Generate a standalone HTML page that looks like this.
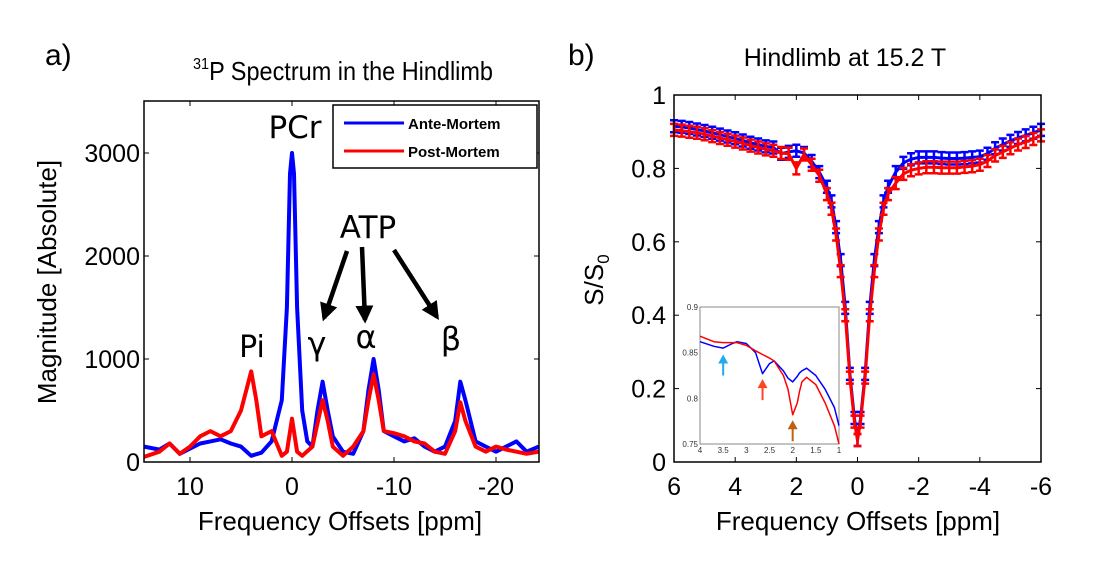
<!DOCTYPE html>
<html><head><meta charset="utf-8"><style>
body{margin:0;background:#fff;width:1114px;height:565px;overflow:hidden}
svg{font-family:"Liberation Sans",sans-serif}
</style></head><body>
<svg id="fig" width="1114" height="565">
<defs>
<marker id="ah" viewBox="0 0 10 10" refX="8" refY="5" markerWidth="4" markerHeight="4" orient="auto"><path d="M0,0L10,5L0,10z" fill="#000"/></marker>
</defs>
<text x="45" y="65" font-size="30">a)</text>
<text x="568" y="65" font-size="30">b)</text>
<text x="343" y="80" font-size="26" text-anchor="middle" textLength="300" lengthAdjust="spacingAndGlyphs"><tspan font-size="16" dy="-11">31</tspan><tspan dy="11">P Spectrum in the Hindlimb</tspan></text>
<text x="845" y="66" font-size="25" text-anchor="middle">Hindlimb at 15.2 T</text>
<g id="A"></g>
<g id="B"></g>
</svg>
<script>
const NS="http://www.w3.org/2000/svg";
function mk(p,t,a){const e=document.createElementNS(NS,t);for(const k in a)e.setAttribute(k,a[k]);p.appendChild(e);return e;}
// ---- chart A data ----
const aBlueX=[14.5,13,12,11,10,9,8,7,6,5,4,3,2,1,0.5,0.2,0,-0.2,-0.5,-1,-1.5,-2,-2.5,-3,-3.5,-4,-5,-6,-7,-7.5,-8,-8.5,-9,-10,-11,-12,-13,-14,-15,-16,-16.5,-17,-18,-19,-20,-21,-22,-23,-24.2];
const aBlueY=[150,120,180,80,130,180,200,220,180,150,60,90,200,600,1500,2800,3000,2800,1500,500,200,150,500,780,500,250,100,80,300,700,1000,700,300,250,200,230,150,100,150,400,780,600,200,150,100,150,200,100,150];
const aRedX=[14.5,13,12,11,10,9,8,7,6,5,4,3.5,3,2,1,0.5,0,-0.5,-1,-2,-3,-3.5,-4,-5,-6,-7,-7.5,-8,-8.5,-9,-10,-11,-12,-13,-14,-15,-16,-16.5,-17,-18,-19,-20,-21,-22,-23,-24.2];
const aRedY=[50,100,180,80,150,250,300,250,300,500,880,600,250,300,60,100,420,100,60,150,600,400,150,60,150,300,600,850,600,300,280,250,200,180,100,80,300,580,400,150,100,150,120,100,80,100];
const aXTicks=[10,0,-10,-20];
const aYTicks=[0,1000,2000,3000];
// ---- chart B data ----
const bX=[6,5.75,5.5,5.25,5,4.75,4.5,4.25,4,3.75,3.5,3.25,3,2.75,2.5,2.25,2,1.75,1.5,1.25,1,0.85,0.7,0.55,0.4,0.25,0.1,0,-0.1,-0.25,-0.4,-0.55,-0.7,-0.85,-1,-1.25,-1.5,-1.75,-2,-2.25,-2.5,-2.75,-3,-3.25,-3.5,-3.75,-4,-4.25,-4.5,-4.75,-5,-5.25,-5.5,-5.75,-6];
const bBlue=[0.915,0.913,0.91,0.906,0.902,0.897,0.892,0.887,0.882,0.876,0.87,0.865,0.86,0.857,0.84,0.845,0.848,0.842,0.82,0.79,0.75,0.71,0.64,0.55,0.42,0.24,0.12,0.06,0.12,0.24,0.42,0.55,0.64,0.71,0.75,0.79,0.815,0.825,0.83,0.83,0.83,0.828,0.827,0.827,0.828,0.83,0.832,0.84,0.855,0.865,0.875,0.883,0.89,0.897,0.905];
const bRed=[0.905,0.903,0.9,0.897,0.893,0.888,0.883,0.878,0.873,0.868,0.862,0.857,0.852,0.848,0.842,0.84,0.80,0.838,0.81,0.78,0.73,0.69,0.62,0.52,0.40,0.23,0.11,0.06,0.11,0.23,0.40,0.52,0.62,0.69,0.73,0.76,0.785,0.795,0.80,0.803,0.803,0.802,0.802,0.802,0.804,0.806,0.81,0.82,0.835,0.845,0.855,0.865,0.872,0.88,0.89];
const bXTicks=[6,4,2,0,-2,-4,-6];
const bYTicks=[0,0.2,0.4,0.6,0.8,1];
const inX=[4,3.7,3.5,3.3,3.2,3,2.8,2.65,2.5,2.4,2.2,2.1,2,1.9,1.85,1.8,1.7,1.5,1.3,1.1,1];
const inBlue=[0.862,0.857,0.855,0.86,0.862,0.86,0.85,0.827,0.838,0.841,0.83,0.822,0.818,0.824,0.828,0.83,0.833,0.825,0.81,0.79,0.77];
const inRed=[0.868,0.862,0.861,0.861,0.861,0.858,0.852,0.848,0.844,0.841,0.825,0.81,0.782,0.795,0.808,0.818,0.823,0.815,0.795,0.77,0.75];
const inXTicks=[4,3.5,3,2.5,2,1.5,1];
const inYTicks=[0.75,0.8,0.85,0.9];

// ---- chart A ----
const A=document.getElementById('A');
const aL=144,aR=539,aT=101,aB=462;
const ax=v=>292-(v)*10.2, ay=v=>aB-v*0.103;
function axesFrame(g,L,T,R,B){const r=mk(g,'rect',{x:L,y:T,width:R-L,height:B-T,fill:'none',stroke:'#000','stroke-width':1.5});}
function line(g,X,Y,fx,fy,col,w,name){const d=X.map((x,i)=>(i?'L':'M')+fx(x).toFixed(1)+','+fy(Y[i]).toFixed(1)).join('');const p=mk(g,'path',{d:d,fill:'none',stroke:col,'stroke-width':w,'stroke-linejoin':'round'});return p;}
line(A,aBlueX,aBlueY,ax,ay,'#0000ff',4,'ante-mortem-line');
line(A,aRedX,aRedY,ax,ay,'#ff0000',4,'post-mortem-line');
axesFrame(A,aL,aT,aR,aB);
aXTicks.forEach(v=>{mk(A,'line',{x1:ax(v),x2:ax(v),y1:aB,y2:aB-5,stroke:'#000'});mk(A,'line',{x1:ax(v),x2:ax(v),y1:aT,y2:aT+5,stroke:'#000'});const t=mk(A,'text',{x:ax(v),y:aB+33,'font-size':25,'text-anchor':'middle'});t.textContent=v;});
aYTicks.forEach(v=>{mk(A,'line',{x1:aL,x2:aL+5,y1:ay(v),y2:ay(v),stroke:'#000'});mk(A,'line',{x1:aR,x2:aR-5,y1:ay(v),y2:ay(v),stroke:'#000'});const t=mk(A,'text',{x:aL-4,y:ay(v)+9,'font-size':25,'text-anchor':'end'});t.textContent=v;});
let t=mk(A,'text',{x:340,y:530,'font-size':26,'text-anchor':'middle'});t.textContent='Frequency Offsets [ppm]';
t=mk(A,'text',{x:0,y:0,'font-size':26,'text-anchor':'middle',transform:'translate(56,282) rotate(-90)'});t.textContent='Magnitude [Absolute]';
// legend
const lg=mk(A,'g',{});
mk(lg,'rect',{x:333,y:105,width:204,height:63,fill:'#fff',stroke:'#000','stroke-width':1.5});
mk(lg,'line',{x1:344,x2:404,y1:123,y2:123,stroke:'#0000ff','stroke-width':3});
mk(lg,'line',{x1:344,x2:404,y1:151,y2:151,stroke:'#ff0000','stroke-width':3});
t=mk(lg,'text',{x:408,y:129,'font-size':15,'font-weight':'bold'});t.textContent='Ante-Mortem';
t=mk(lg,'text',{x:408,y:157,'font-size':15,'font-weight':'bold'});t.textContent='Post-Mortem';
// annotations
[['PCr',295,138,31],['ATP',368,238,31],['Pi',252,357,30],['γ',317,355,32],['α',366,348,32],['β',451,350,32]].forEach(a=>{const e=mk(A,'text',{x:a[1],y:a[2],'font-size':a[3],'text-anchor':'middle',"font-family":"DejaVu Sans, sans-serif"});e.textContent=a[0];});
[[347,251,324,318],[362,247,365,320],[394,250,437,317]].forEach(a=>{const e=mk(A,'line',{x1:a[0],y1:a[1],x2:a[2],y2:a[3],stroke:'#000','stroke-width':4.5,'marker-end':'url(#ah)'});});

// ---- chart B ----
const B=document.getElementById('B');
const bL=674,bR=1041,bT=95,bB=462;
const bx=v=>857.5-v*30.58, by=v=>bB-v*367;
function errs(X,Y,col,name){X.forEach((x,i)=>{const px=bx(x),py=by(Y[i]);const e=mk(B,'path',{d:`M${px},${py-6}L${px},${py+6}M${px-4},${py-6}L${px+4},${py-6}M${px-4},${py+6}L${px+4},${py+6}`,stroke:col,'stroke-width':2.5,fill:'none'});});}
line(B,bX,bBlue,bx,by,'#0000ff',3,'ante-mortem-zspectrum');
errs(bX,bBlue,'#0000ff','ante-error-bar');
line(B,bX,bRed,bx,by,'#ff0000',3,'post-mortem-zspectrum');
errs(bX,bRed,'#ff0000','post-error-bar');
axesFrame(B,bL,bT,bR,bB);
bXTicks.forEach(v=>{mk(B,'line',{x1:bx(v),x2:bx(v),y1:bB,y2:bB-5,stroke:'#000'});mk(B,'line',{x1:bx(v),x2:bx(v),y1:bT,y2:bT+5,stroke:'#000'});const e=mk(B,'text',{x:bx(v),y:bB+33,'font-size':25,'text-anchor':'middle'});e.textContent=v;});
bYTicks.forEach(v=>{mk(B,'line',{x1:bL,x2:bL+5,y1:by(v),y2:by(v),stroke:'#000'});mk(B,'line',{x1:bR,x2:bR-5,y1:by(v),y2:by(v),stroke:'#000'});const e=mk(B,'text',{x:bL-8,y:by(v)+9,'font-size':25,'text-anchor':'end'});e.textContent=v;});
t=mk(B,'text',{x:858,y:530,'font-size':26,'text-anchor':'middle'});t.textContent='Frequency Offsets [ppm]';
t=mk(B,'text',{x:0,y:0,'font-size':26,'text-anchor':'middle',transform:'translate(603,280) rotate(-90)'});t.innerHTML='S/S<tspan font-size="17" dy="6">0</tspan>';
// inset
const I=mk(B,'g',{});
const iL=700,iR=839,iT=307,iB=444;
const ix=v=>iL+(4-v)/3*(iR-iL), iy=v=>iB-(v-0.75)/0.15*(iB-iT);
mk(I,'rect',{x:iL,y:iT,width:iR-iL,height:iB-iT,fill:'#fff',stroke:'#888','stroke-width':1});
line(I,inX,inBlue,ix,iy,'#0000ff',1.5,'inset-ante-line');
line(I,inX,inRed,ix,iy,'#ff0000',1.5,'inset-post-line');
inXTicks.forEach(v=>{const e=mk(I,'text',{x:ix(v),y:iB+9,'font-size':8,'text-anchor':'middle',fill:'#333'});e.textContent=v;});
inYTicks.forEach(v=>{const e=mk(I,'text',{x:iL-2,y:iy(v)+3,'font-size':8,'text-anchor':'end',fill:'#333'});e.textContent=v;});
[[3.5,0.848,'#22aaee'],[2.65,0.821,'#ff4422'],[2.0,0.776,'#c06010']].forEach(a=>{const px=ix(a[0]),py=iy(a[1]);const e=mk(I,'path',{d:`M${px},${py}L${px-5},${py+9}L${px-1},${py+9}L${px-1},${py+21}L${px+1},${py+21}L${px+1},${py+9}L${px+5},${py+9}Z`,fill:a[2]});});
</script>
</body></html>
